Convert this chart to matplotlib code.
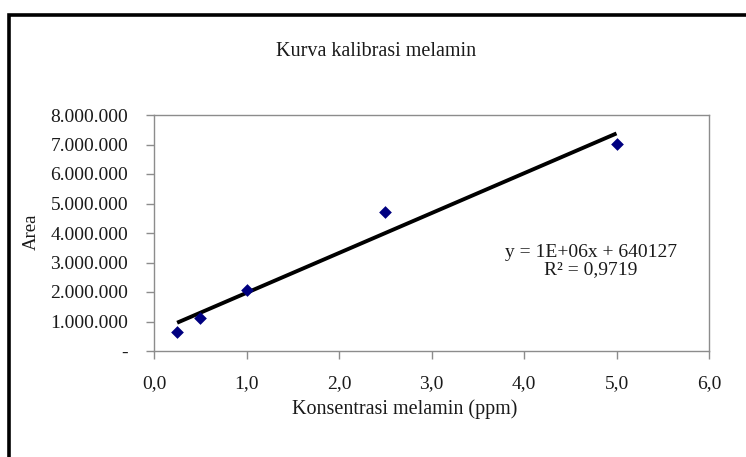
import numpy as np
import matplotlib
matplotlib.use("Agg")
import matplotlib.pyplot as plt
from matplotlib.patches import Rectangle

# Data
konsentrasi = [0.25, 0.5, 1.0, 2.5, 5.0]
area = [650000, 1130000, 2080000, 4710000, 7030000]
x_ticks = [0, 1, 2, 3, 4, 5, 6]
x_ticklabels = ["0,0", "1,0", "2,0", "3,0", "4,0", "5,0", "6,0"]
y_ticks = [0, 1000000, 2000000, 3000000, 4000000, 5000000, 6000000, 7000000, 8000000]
y_ticklabels = ["-", "1.000.000", "2.000.000", "3.000.000", "4.000.000",
                "5.000.000", "6.000.000", "7.000.000", "8.000.000"]
title = "Kurva kalibrasi melamin"
xlabel = "Konsentrasi melamin (ppm)"
ylabel = "Area"
eq_text = "y = 1E+06x + 640127\nR² = 0,9719"

plt.rcParams['font.family'] = ['Liberation Serif', 'DejaVu Serif']
txt = '#1a1a1a'

W, H = 746, 457
fig = plt.figure(figsize=(W / 100, H / 100), dpi=100)
fig.patch.set_facecolor('white')

# outer frame
fig.add_artist(Rectangle((8.5 / W, 0 - 20 / H), (W + 20) / W, (H - 15) / H + 20 / H,
                         transform=fig.transFigure, fill=False, edgecolor='black',
                         linewidth=2.6))

left, right, top, bottom = 154, 709, 115, 351
ax = fig.add_axes([left / W, 1 - bottom / H, (right - left) / W, (bottom - top) / H])

# trendline fit
slope, intercept = np.polyfit(konsentrasi, area, 1)
xs = np.array([min(konsentrasi), max(konsentrasi)])
ax.plot(xs, slope * xs + intercept, color='black', linewidth=2.8, solid_capstyle='butt', zorder=2)
ax.scatter(konsentrasi, area, marker='D', s=42, color='#000080', zorder=3, linewidths=0)

ax.set_xlim(0, 6)
ax.set_ylim(0, 8000000)
ax.set_xticks(x_ticks)
ax.set_xticklabels(x_ticklabels)
ax.set_yticks(y_ticks)
ax.set_yticklabels(y_ticklabels)

for s in ax.spines.values():
    s.set_color('#8c8c8c')
    s.set_linewidth(1.0)
ax.tick_params(axis='both', direction='out', length=6, width=1.0, color='#8c8c8c',
               labelsize=14, labelcolor=txt)
ax.tick_params(axis='x', pad=11.5)
ax.tick_params(axis='y', pad=12.5)

fig.text(376 / W, 1 - 52 / H, title, ha='center', va='center', fontsize=14.5, color=txt)
fig.text(405 / W, 1 - 409 / H, xlabel, ha='center', va='center', fontsize=14.5, color=txt)
fig.text(31 / W, 1 - 232 / H, ylabel, ha='center', va='center', rotation=90, fontsize=13.5, color=txt)
fig.text(591 / W, 1 - 261 / H, eq_text, ha='center', va='center', fontsize=14, color=txt,
         multialignment='center', linespacing=1.05)

fig.savefig('out.png', dpi=100)
